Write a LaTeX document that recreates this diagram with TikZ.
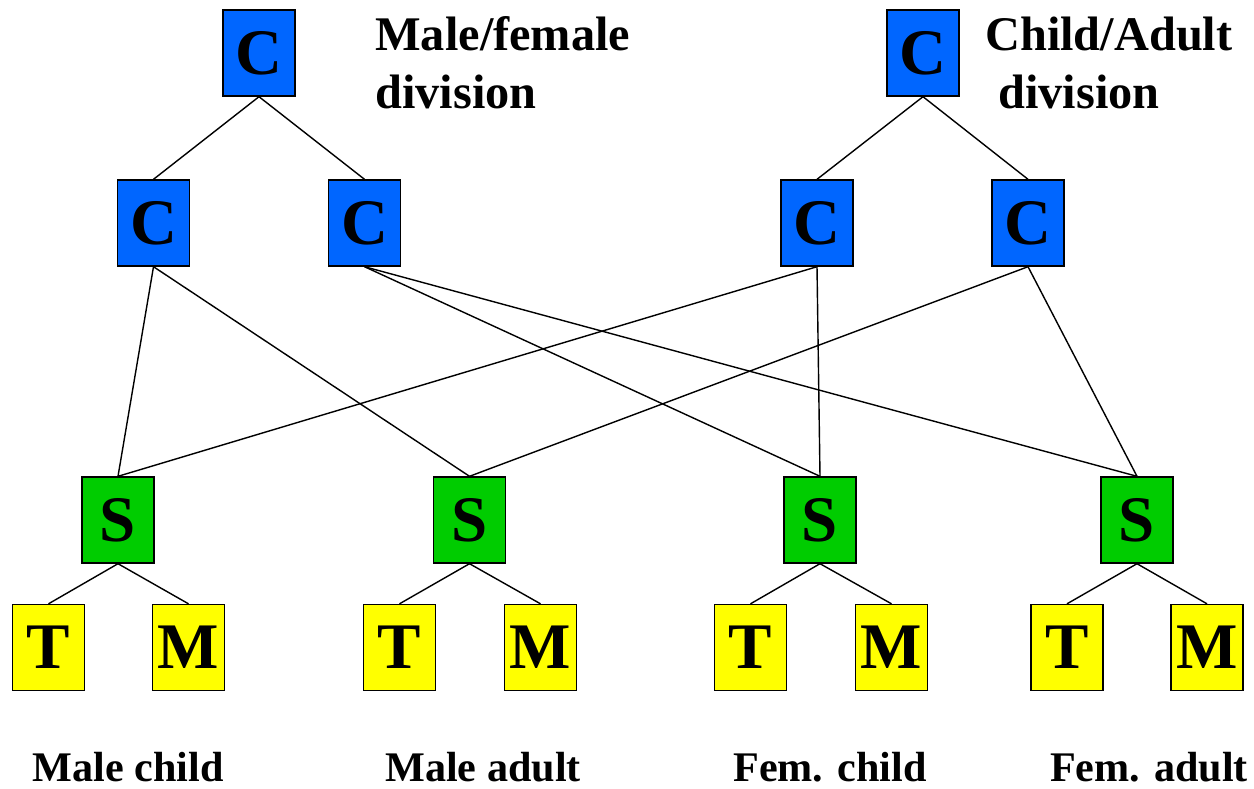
\documentclass[tikz,border=0pt]{standalone}
\usepackage{fontspec}
\setmainfont{Liberation Serif}
\usepackage{xcolor}
\definecolor{cblue}{RGB}{0,102,255}
\definecolor{sgreen}{RGB}{0,204,0}
\definecolor{tyellow}{RGB}{255,255,0}

\begin{document}
\begin{tikzpicture}[
			     x=0.02cm, y=-0.02cm,
			     box/.style={draw=black, line width=0.8pt, minimum width=1.44cm, minimum height=1.72cm, inner sep=0pt, font=\fontsize{37}{40}\selectfont\bfseries},
			     cbox/.style={box, fill=cblue},
			     sbox/.style={box, fill=sgreen},
			     leafbox/.style={box, fill=tyellow},
			     division/.style={anchor=base west, inner sep=0pt, font=\fontsize{27.5}{33}\selectfont\bfseries},
			     group/.style={anchor=base, inner sep=0pt, font=\fontsize{24}{28}\selectfont\bfseries},
			     every edge/.style={draw, line width=0.8pt}
			     ]
\useasboundingbox (0,0) rectangle (1254,788);
% top level classifiers
\node[cbox] (c-0-1) at (259,53) {C};
\node[cbox] (c-0-2) at (923,53) {C};
\node[division] (mf-1) at (375,50) {Male/female};
\node[division] (mf-2) at (375,108) {division};
\node[division] (ca-1) at (985,50) {Child/Adult};
\node[division] (ca-2) at (998,108) {division};
% second level classifiers
\node[cbox] (c-1-1) at (153.5,223) {C};
\node[cbox] (c-1-2) at (364.5,223) {C};
\node[cbox] (c-1-3) at (817,223) {C};
\node[cbox] (c-1-4) at (1028,223) {C};
% selectors
\node[sbox] (s-1) at (118,520) {S};
\node[sbox] (s-2) at (469.5,520) {S};
\node[sbox] (s-3) at (820,520) {S};
\node[sbox] (s-4) at (1137,520) {S};
% leaves
\node[leafbox] (t-1) at (48.5,647.5) {T};
\node[leafbox] (m-1) at (188.5,647.5) {M};
\node[leafbox] (t-2) at (399.5,647.5) {T};
\node[leafbox] (m-2) at (540.5,647.5) {M};
\node[leafbox] (t-3) at (750.5,647.5) {T};
\node[leafbox] (m-3) at (891.5,647.5) {M};
\node[leafbox] (t-4) at (1067,647.5) {T};
\node[leafbox] (m-4) at (1207,647.5) {M};
% group names
\node[group] (g-1) at (128,781) {Male child};
\node[group] (g-2) at (483,781) {Male adult};
\node[group] (g-3) at (830,781) {Fem. child};
\node[group] (g-4) at (1149,781) {Fem. adult};
% tree edges
\path (c-0-1.south) edge (c-1-1.north);
\path (c-0-1.south) edge (c-1-2.north);
\path (c-0-2.south) edge (c-1-3.north);
\path (c-0-2.south) edge (c-1-4.north);
% crossing edges down to the selectors
\path (c-1-1.south) edge (s-1.north);
\path (c-1-1.south) edge (s-2.north);
\path (c-1-2.south) edge (s-3.north);
\path (c-1-2.south) edge (s-4.north);
\path (c-1-3.south) edge (s-1.north);
\path (c-1-3.south) edge (s-3.north);
\path (c-1-4.south) edge (s-2.north);
\path (c-1-4.south) edge (s-4.north);
% selectors to leaves
\path (s-1.south) edge (t-1.north);
\path (s-1.south) edge (m-1.north);
\path (s-2.south) edge (t-2.north);
\path (s-2.south) edge (m-2.north);
\path (s-3.south) edge (t-3.north);
\path (s-3.south) edge (m-3.north);
\path (s-4.south) edge (t-4.north);
\path (s-4.south) edge (m-4.north);
\end{tikzpicture}
\end{document}
